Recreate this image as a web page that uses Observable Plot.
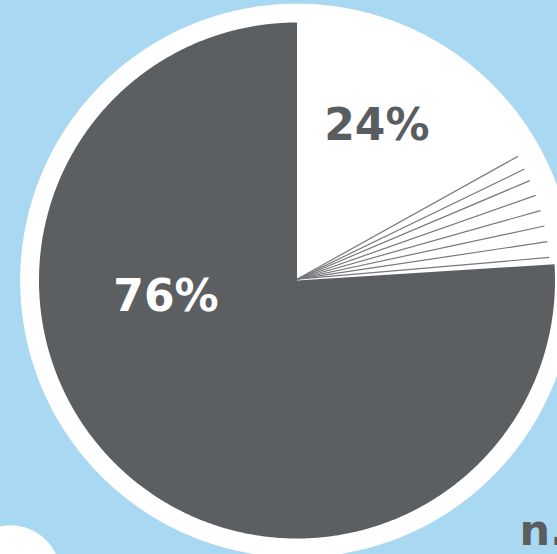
<!DOCTYPE html>
<html><head><meta charset="utf-8">
<script src="https://cdn.jsdelivr.net/npm/d3@7"></script>
<script src="https://cdn.jsdelivr.net/npm/@observablehq/plot@0.6"></script>
<style>
html,body{margin:0;padding:0;background:#a8d8f2;overflow:hidden;width:557px;height:554px}
#chart svg{display:block}
</style>
</head><body><div id="chart"></div>
<script>
// ---- data ----
const sliceNames = ["Share A", "Share B"];
const sliceValues = [24, 76];
const sliceLabels = ["24%", "76%"];
const sliceColors = ["#ffffff", "#5c5f62"];
const labelColors = ["#5a5d60", "#ffffff"];
// cumulative percent positions of the thin divider lines inside the small slice
const fanDividers = [16.85, 17.75, 18.55, 19.55, 20.55, 21.55, 22.55, 23.55];
const footNote = ["n."];

// ---- geometry helpers (data units: pie radius = 1) ----
const TAU = 2 * Math.PI;
const pctToAngle = p => p / 100 * TAU; // clockwise from 12 o'clock
function arcPolygon(startPct, endPct, r, name) {
  const pts = [{x: 0, y: 0, name}];
  const a0 = pctToAngle(startPct), a1 = pctToAngle(endPct);
  const n = Math.max(2, Math.ceil((a1 - a0) / 0.005));
  for (let i = 0; i <= n; i++) {
    const a = a0 + (a1 - a0) * i / n;
    pts.push({x: r * Math.sin(a), y: r * Math.cos(a), name});
  }
  return pts;
}
function circlePolygon(cx, cy, r) {
  const pts = [];
  for (let i = 0; i < 360; i++) {
    const a = i / 360 * TAU;
    pts.push({x: cx + r * Math.sin(a), y: cy + r * Math.cos(a)});
  }
  return pts;
}

let cum = 0;
const slices = sliceValues.map((v, i) => {
  const s = {name: sliceNames[i], start: cum, end: cum + v, label: sliceLabels[i], color: sliceColors[i], labelColor: labelColors[i]};
  cum += v;
  return s;
});

const ring = circlePolygon(0, 0, 1.073);
const bubble = circlePolygon(-1.11, -1.143, 0.194);

// label placement (angle in degrees clockwise from 12, radius as fraction)
const labelPlace = [{a: 27.3, r: 0.675}, {a: 262.8, r: 0.512}];
const labels = slices.map((s, i) => ({
  text: s.label, color: s.labelColor,
  x: labelPlace[i].r * Math.sin(labelPlace[i].a * Math.PI / 180),
  y: labelPlace[i].r * Math.cos(labelPlace[i].a * Math.PI / 180)
}));

const marks = [
  Plot.line(ring, {x: "x", y: "y", fill: "white", stroke: "none", curve: "linear-closed"}),
  Plot.line(bubble, {x: "x", y: "y", fill: "white", stroke: "none", curve: "linear-closed"}),
  ...slices.map(s => Plot.line(arcPolygon(s.start, s.end, 1, s.name), {x: "x", y: "y", fill: s.color, stroke: "none", curve: "linear-closed"})),
  Plot.link(fanDividers, {
    x1: () => 0, y1: () => 0.005,
    x2: d => 0.982 * Math.sin(pctToAngle(d)),
    y2: d => 0.982 * Math.cos(pctToAngle(d)),
    stroke: "#76787b", strokeWidth: 1.2
  }),
  Plot.text(labels, {x: "x", y: "y", text: "text", fill: "color", fontSize: 44, fontWeight: "bold", fontFamily: "DejaVu Sans", textAnchor: "middle", lineAnchor: "middle"}),
  Plot.text(footNote, {x: () => 0.862, y: () => -0.972, text: d => d, fill: "#5a5d60", fontSize: 43, fontWeight: "bold", fontFamily: "DejaVu Sans", textAnchor: "start", lineAnchor: "middle"})
];

const chart = Plot.plot({
  width: 557, height: 554, margin: 0,
  x: {domain: [-1.1492, 1.0097], axis: null},
  y: {domain: [-1.062, 1.0853], axis: null},
  style: {background: "transparent", overflow: "hidden"},
  marks
});
document.getElementById("chart").appendChild(chart);
</script>
</body></html>
